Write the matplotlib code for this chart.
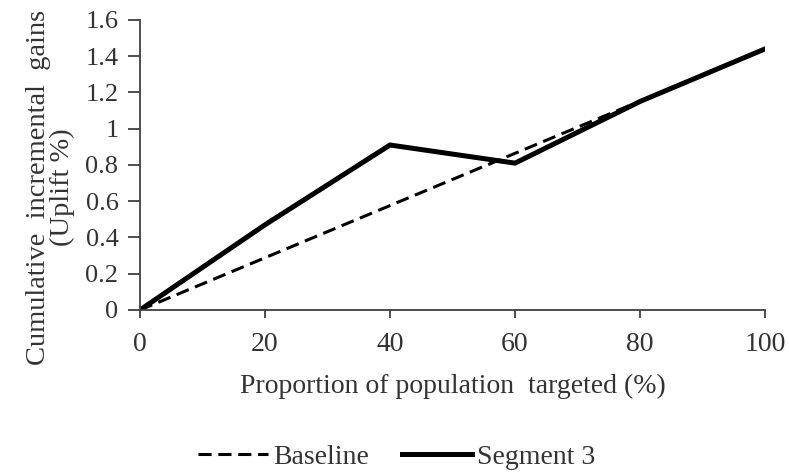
import matplotlib
matplotlib.use("Agg")
import matplotlib.pyplot as plt

plt.rcParams['font.family'] = ['Liberation Serif', 'DejaVu Serif']

# data
x_pct = [0, 20, 40, 60, 80, 100]
baseline = [0, 0.288, 0.576, 0.864, 1.152, 1.44]
segment3 = [0, 0.47, 0.91, 0.81, 1.15, 1.44]
y_ticks = [0, 0.2, 0.4, 0.6, 0.8, 1, 1.2, 1.4, 1.6]
y_labels = ['0', '0.2', '0.4', '0.6', '0.8', '1', '1.2', '1.4', '1.6']

axis_col = '#404040'
text_col = '#333333'

fig = plt.figure(figsize=(7.89, 4.74), dpi=100)
ax = fig.add_axes([0.1774, 0.346, 0.7922, 0.612])

ax.plot(x_pct, baseline, color='black', linestyle=(0, (4.3, 2.2)), linewidth=2.2, label='Baseline')
ax.plot(x_pct, segment3, color='black', linewidth=3.6, solid_joinstyle='miter', label='Segment 3')

ax.set_xlim(0, 100)
ax.set_ylim(0, 1.6)
ax.set_xticks(x_pct)
ax.set_yticks(y_ticks)
ax.set_yticklabels(y_labels)
ax.spines['top'].set_visible(False)
ax.spines['right'].set_visible(False)
for s in ['left', 'bottom']:
    ax.spines[s].set_color(axis_col)
    ax.spines[s].set_linewidth(1.3)
ax.tick_params(axis='both', width=1.3, color=axis_col, labelcolor=text_col)
ax.tick_params(axis='x', labelsize=20, length=6, pad=10)
ax.tick_params(axis='y', labelsize=19, length=8.5, pad=7)

ax.set_xlabel('Proportion of population  targeted (%)', fontsize=20, color=text_col, labelpad=12)
fig.text(0.064, 0.605, 'Cumulative  incremental  gains\n(Uplift %)', rotation=90,
         ha='center', va='center', multialignment='center', fontsize=20.5,
         color=text_col, linespacing=0.9)

fig.legend(loc='center', bbox_to_anchor=(397 / 789, 1 - 457 / 474), ncol=2, frameon=False,
           fontsize=20, handlelength=2.5, handletextpad=0.2, columnspacing=1.2,
           borderpad=0, labelcolor=text_col)

fig.savefig('out.png', dpi=100)
